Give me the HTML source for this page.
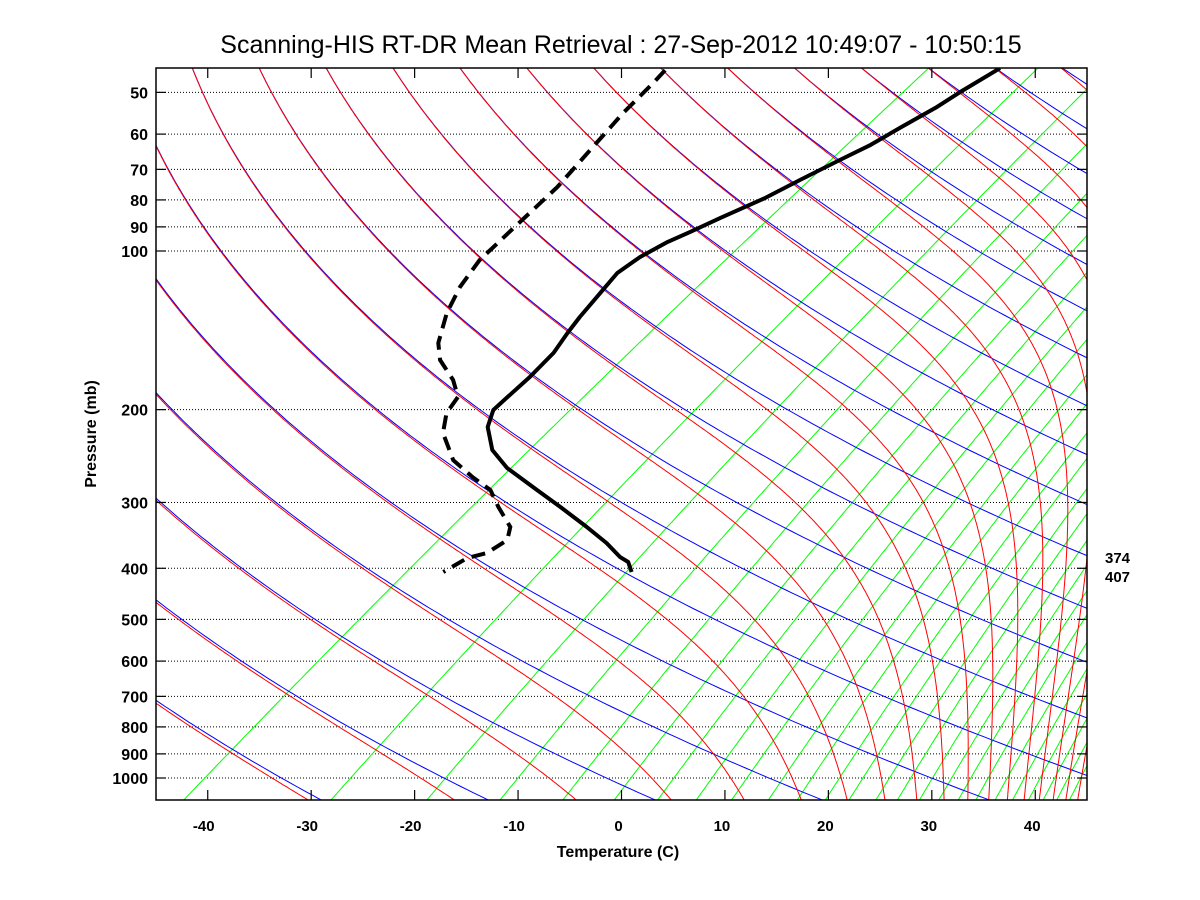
<!DOCTYPE html>
<html><head><meta charset="utf-8"><style>
html,body{margin:0;padding:0;background:#fff;}
svg{display:block;font-family:"Liberation Sans",sans-serif;}
</style></head><body>
<svg id="chart" width="1200" height="900" viewBox="0 0 1200 900" xmlns="http://www.w3.org/2000/svg">
<rect x="0" y="0" width="1200" height="900" fill="#fff"/>
<defs><clipPath id="plotclip"><rect x="156" y="68" width="931" height="732"/></clipPath></defs>
<text x="621" y="53" font-size="25" text-anchor="middle" fill="#000">Scanning-HIS RT-DR Mean Retrieval : 27-Sep-2012 10:49:07 - 10:50:15</text>
<g id="grid"></g>
<g id="bg" clip-path="url(#plotclip)"></g>
<g id="data" clip-path="url(#plotclip)"></g>
<g id="axes"></g>
<text x="618" y="857" font-size="16" font-weight="bold" text-anchor="middle">Temperature (C)</text>
<text transform="translate(96,434) rotate(-90)" font-size="16" font-weight="bold" text-anchor="middle">Pressure (mb)</text>
<text x="1105" y="563" font-size="15" font-weight="bold">374</text>
<text x="1105" y="582" font-size="15" font-weight="bold">407</text>
</svg>
<script>
// ---- data ----
const pressureTicks = [50,60,70,80,90,100,200,300,400,500,600,700,800,900,1000];
const tempTicks = [-40,-30,-20,-10,0,10,20,30,40];
const tempPressure = [45,50,53.5,58.4,62.9,67.2,73.3,79.3,86.6,92.0,96.1,102.7,110.1,120.2,133.4,143.0,156.1,173.4,189.2,200.3,215.8,238.6,258.1,284.1,306.0,334.0,358.2,380.6,389.1,406.5];
const tempValues = [-54.8,-55.4,-55.6,-56.3,-56.8,-57.7,-58.8,-59.7,-61.3,-62.3,-63.1,-63.7,-63.7,-62.6,-61.3,-60.3,-58.9,-57.9,-57.3,-56.9,-55.1,-51.5,-47.6,-41.7,-37.1,-31.8,-27.7,-24.5,-23.0,-21.3];
const dewPressure = [45.4,48.0,54.7,64.3,75.6,89.3,104.0,117.0,131.1,149.5,161.0,175.7,189.2,203.0,221.5,249.3,268.5,284.1,306.0,334.0,353.5,374.1,382.4,406.5];
const dewValues = [-86.9,-86.3,-85.1,-83.2,-81.3,-80.0,-78.8,-77.0,-74.7,-71.4,-68.9,-64.9,-62.1,-61.0,-58.6,-53.9,-49.7,-46.2,-43.1,-39.2,-37.7,-37.9,-39.1,-39.5];
const mixingRatios = [0.21,0.77,1.65,2.84,4.42,6.25,8.3,10.6,13.2,16.5,19.6,23.1,26.5,30.9,34.9,39.5,44,49,54,60,66,72,78,84,90];
const thetaBase = 293.4, thetaStep = 15.71;
const moistOffset = -7;

// ---- axis functions ----
const NS="http://www.w3.org/2000/svg";
function Lp(p){return Math.log10(1000/p);}
function Y(p){return 778-527*Lp(p);}
function X(Tc,p){return 559.5+10.344*Tc+748*Lp(p);}
function tickX(v){return 621.5+10.344*v;}
function mk(tag,attrs,parent){const e=document.createElementNS(NS,tag);for(const k in attrs)e.setAttribute(k,attrs[k]);parent.appendChild(e);return e;}
function pathFrom(pts){return pts.map((q,i)=>(i?'L':'M')+q[0].toFixed(1)+' '+q[1].toFixed(1)).join(' ');}
const grid=document.getElementById('grid'),bg=document.getElementById('bg'),data=document.getElementById('data'),axes=document.getElementById('axes');

pressureTicks.forEach(p=>{
  const y=Y(p);
  const l=mk('line',{x1:156,x2:1087,y1:y,y2:y,stroke:'#000','stroke-width':1,'stroke-dasharray':'1,2'},grid);
  
  
});

const pList=[];for(let i=0;i<=240;i++){pList.push(Math.exp(Math.log(44)+(Math.log(1110)-Math.log(44))*i/240));}

mixingRatios.forEach((w,i)=>{
  const wk=w/1000;
  const pts=pList.map(p=>{const e=wk*p/(0.622+wk);const L=Math.log(e/6.112);const Tc=243.5*L/(17.67-L);return [X(Tc,p),Y(p)];});
  const el=mk('path',{d:pathFrom(pts),fill:'none',stroke:'#00ff00','stroke-width':1},bg);
  
  
});

for(let n=-4;n<=17;n++){
  const th=thetaBase+thetaStep*n;
  const pts=pList.map(p=>[X(th*Math.pow(p/1000,0.286)-273.15,p),Y(p)]);
  const el=mk('path',{d:pathFrom(pts),fill:'none',stroke:'#0000ff','stroke-width':1},bg);
  
  
}

function dTdlnp(T,p){const Tc=T-273.15+moistOffset;const es=6.112*Math.exp(17.67*Tc/(Tc+243.5));const rs=0.622*es/(p-es);
  return (287.04*T+2.501e6*rs)/(1005.7+2.501e6*2.501e6*rs*0.622/(287.04*T*T));}
for(let n=-4;n<=40;n++){
  const th=thetaBase+thetaStep*n;
  let p=44,T=th*Math.pow(44/1000,0.286);
  const pts=[[X(T-273.15,p),Y(p)]];
  const N=400,h=(Math.log(1110)-Math.log(44))/N;
  for(let i=0;i<N;i++){
    const k1=dTdlnp(T,p);const p2=p*Math.exp(h/2);const k2=dTdlnp(T+k1*h/2,p2);
    T+=k2*h;p=p*Math.exp(h);pts.push([X(T-273.15,p),Y(p)]);
  }
  const el=mk('path',{d:pathFrom(pts),fill:'none',stroke:'#ff0000','stroke-width':1},bg);
  
  
}

const tPath=mk('path',{d:pathFrom(tempPressure.map((p,i)=>[X(tempValues[i],p),Y(p)])),fill:'none',stroke:'#000','stroke-width':4,'stroke-linejoin':'round'},data);


const dPath=mk('path',{d:pathFrom(dewPressure.map((p,i)=>[X(dewValues[i],p),Y(p)])),fill:'none',stroke:'#000','stroke-width':4,'stroke-dasharray':'14,8'},data);



const fr=mk('rect',{x:156,y:68,width:931,height:732,fill:'none',stroke:'#000','stroke-width':1.5},axes);


pressureTicks.forEach(p=>{
  const y=Y(p);
  mk('line',{x1:156,x2:166,y1:y,y2:y,stroke:'#000','stroke-width':1.2},axes);
  mk('line',{x1:1077,x2:1087,y1:y,y2:y,stroke:'#000','stroke-width':1.2},axes);
  const t=mk('text',{x:148,y:y+6,'font-size':16,'font-weight':'bold','text-anchor':'end'},axes);
  t.textContent=String(p);
  
  
});
tempTicks.forEach(v=>{
  const x=tickX(v);
  mk('line',{x1:x,x2:x,y1:790,y2:800,stroke:'#000','stroke-width':1.2},axes);
  mk('line',{x1:x,x2:x,y1:68,y2:78,stroke:'#000','stroke-width':1.2},axes);
  const t=mk('text',{x:x-(v<0?4:3),y:831,'font-size':15,'font-weight':'bold','text-anchor':'middle'},axes);
  t.textContent=String(v);
  
  
});
</script>
</body></html>
